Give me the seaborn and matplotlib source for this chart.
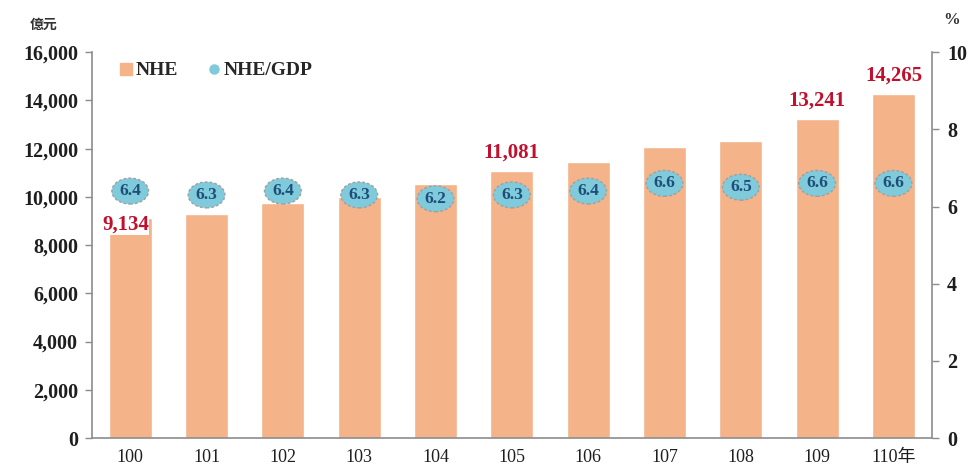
import numpy as np
import pandas as pd
import matplotlib
matplotlib.use("Agg")
import matplotlib.pyplot as plt
import seaborn as sns
from matplotlib.path import Path
from matplotlib.transforms import Affine2D
from matplotlib.lines import Line2D

# 資料
years = ["100", "101", "102", "103", "104", "105", "106", "107", "108", "109", "110年"]
nhe = [9134, 9290, 9740, 9990, 10530, 11081, 11440, 12060, 12310, 13241, 14265]
nhe_gdp = [6.4, 6.3, 6.4, 6.3, 6.2, 6.3, 6.4, 6.6, 6.5, 6.6, 6.6]
labeled = {"100": "below", "105": "above", "109": "above", "110年": "above"}

df = pd.DataFrame({"year": years, "nhe": nhe, "ratio": nhe_gdp})

BAR = "#F5B38A"
DOT = "#7FCADB"
RED = "#C0102E"
NAVY = "#1F4E79"
GREY = "#8C8C8C"
INK = "#1E1E1E"

sns.set_theme(style="white")
plt.rcParams["font.family"] = ["Liberation Serif", "Noto Sans CJK TC"]

fig = plt.figure(figsize=(9.74, 4.70), dpi=100)
ax = fig.add_axes([0.0945, 0.068, 0.862, 0.821])

sns.barplot(data=df, x="year", y="nhe", color=BAR, width=0.56, saturation=1, ax=ax)
ax.set_ylim(0, 16000)
ax.set_xlim(-0.5, len(years) - 0.5)
ax.set_yticks(np.arange(0, 16001, 2000))
ax.set_yticklabels([f"{v:,}" for v in range(0, 16001, 2000)], fontsize=14.5, fontweight="bold", color=INK)
ax.set_xticks(range(len(years)))
ax.set_xticklabels(years, fontsize=13, color=INK)
ax.set_xticks(np.arange(-0.5, len(years), 1), minor=True)
ax.tick_params(axis="x", which="major", length=0, pad=8)
ax.tick_params(axis="x", which="minor", length=6, color=GREY, width=1, direction="out")
ax.tick_params(axis="y", length=5, color=GREY, width=1, direction="out", left=True, pad=5)
ax.set_xlabel("")
ax.set_ylabel("")
for s in ["top", "right"]:
    ax.spines[s].set_visible(False)
for s in ["left", "bottom"]:
    ax.spines[s].set_color(GREY)
    ax.spines[s].set_linewidth(1.2)

# 金額標籤
for i, (y, v) in enumerate(zip(years, nhe)):
    if y in labeled:
        if labeled[y] == "above":
            ax.annotate(f"{v:,}", (i, v), xytext=(0, 6), textcoords="offset points",
                        ha="center", va="bottom", fontsize=15, fontweight="bold", color=RED)
        else:
            ax.annotate(f"{v:,}", (i, v), xytext=(-3, -5), textcoords="offset points",
                        ha="center", va="center", fontsize=15, fontweight="bold", color=RED,
                        bbox=dict(boxstyle="square,pad=0.0", fc="white", ec="none"))

# 右軸 NHE/GDP
ax2 = ax.twinx()
ellipse = Path.unit_circle().transformed(Affine2D().scale(1.42, 1.0))
sns.scatterplot(data=df, x="year", y="ratio", marker=ellipse, s=700, color=DOT,
                edgecolor="#A0A0A0", linewidth=1.0, ax=ax2, zorder=5, legend=False)
for coll in ax2.collections:
    coll.set_linestyle((0, (2, 1.5)))
for i, r in enumerate(nhe_gdp):
    ax2.text(i, r, f"{r}", ha="center", va="center", fontsize=12.5, fontweight="bold",
             color=NAVY, zorder=6)
ax2.set_ylim(0, 10)
ax2.set_xlim(-0.5, len(years) - 0.5)
ax2.set_yticks(range(0, 11, 2))
ax2.set_yticklabels([str(v) for v in range(0, 11, 2)], fontsize=14.5, fontweight="bold", color=INK)
ax2.tick_params(axis="y", length=5, color=GREY, width=1, direction="out", right=True, pad=6)
ax2.set_ylabel("")
ax2.set_xlabel("")
for s in ["top", "left", "bottom"]:
    ax2.spines[s].set_visible(False)
ax2.spines["right"].set_color(GREY)
ax2.spines["right"].set_linewidth(1.2)
ax2.grid(False)
ax.grid(False)

# 單位
fig.text(0.045, 0.947, "億元", fontsize=10, fontweight="bold", color="#333333", ha="center", va="center")
fig.text(0.977, 0.957, "%", fontsize=12, fontweight="bold", color="#333333", ha="center", va="center")

# 圖例
handles = [
    Line2D([], [], marker="s", linestyle="none", markersize=8, color=BAR, label="NHE"),
    Line2D([], [], marker="o", linestyle="none", markersize=6.5, color=DOT, label="NHE/GDP"),
]
ax.legend(handles=handles, loc="upper left", bbox_to_anchor=(0.03, 0.975), ncol=2, frameon=False,
          borderpad=0, borderaxespad=0, handlelength=0.9, handletextpad=0.05, columnspacing=1.4,
          prop={"family": "Liberation Serif", "weight": "bold", "size": 14})

fig.savefig("out.png", dpi=100)
